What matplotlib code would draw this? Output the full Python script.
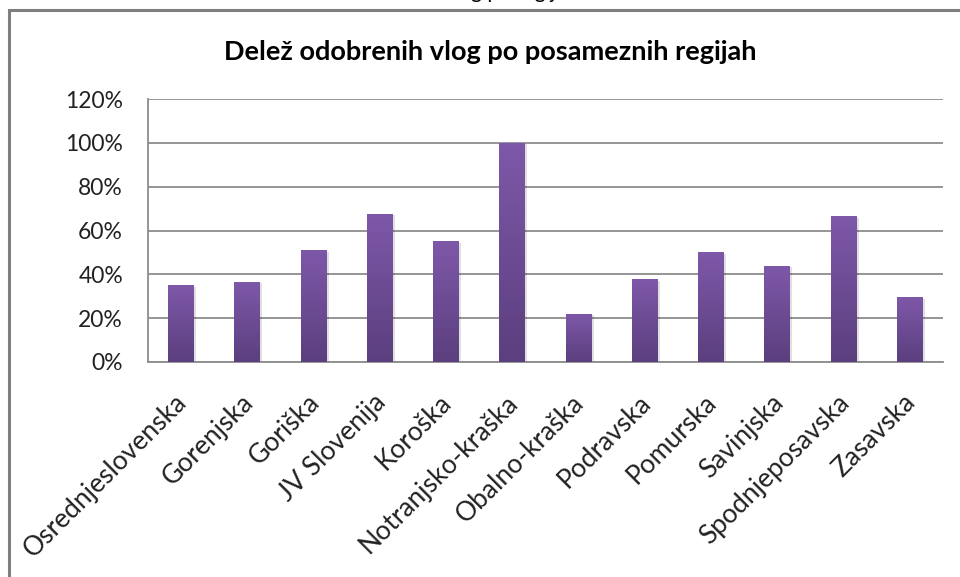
import matplotlib.pyplot as plt
import matplotlib.transforms as mtransforms
import numpy as np
from matplotlib.patches import Rectangle
from matplotlib.colors import LinearSegmentedColormap

regije = ['Osrednjeslovenska', 'Gorenjska', 'Goriška', 'JV Slovenija', 'Koroška',
          'Notranjsko-kraška', 'Obalno-kraška', 'Podravska', 'Pomurska', 'Savinjska',
          'Spodnjeposavska', 'Zasavska']
delez = [35, 36.6, 51, 67.5, 55, 100, 22, 37.7, 50, 44, 66.5, 29.5]
yticks = [0, 20, 40, 60, 80, 100, 120]

plt.rcParams['font.family'] = ['Lato', 'DejaVu Sans']

fig = plt.figure(figsize=(9.6, 5.77), dpi=100)
fig.patch.set_facecolor('white')

# outer chart frame (cut off right and bottom like the screenshot)
fig.patches.append(Rectangle((9 / 960, -0.05), 1.2, 1 - 10 / 577 + 0.05,
                             transform=fig.transFigure, fill=False,
                             edgecolor='#7f7f7f', linewidth=2.2))

# heading of the page above the chart, only its lower part is visible
fig.text(0.45, 1.0 + 2 / 577, 'Delež odobrenih vlog po regijah', ha='center',
         va='baseline', fontsize=15, color='black')

ax = fig.add_axes([148 / 960, 1 - 362 / 577, (943 - 148) / 960, (362 - 99) / 577])

x = np.arange(len(regije))
bars = ax.bar(x, delez, width=0.39, color='#6b4a93', zorder=3)

# vertical gradient on each bar
cmap = LinearSegmentedColormap.from_list('vijol', ['#5b3f7e', '#7e58a9'])
grad = np.linspace(0, 1, 256).reshape(-1, 1)
for b in bars:
    x0, w, h = b.get_x(), b.get_width(), b.get_height()
    # soft shadow
    ax.add_patch(Rectangle((x0 + 0.03, 0), w, h - 0.6, color='#000000', alpha=0.12,
                           zorder=2, linewidth=0))
    im = ax.imshow(grad, extent=[x0, x0 + w, 0, h], origin='lower', cmap=cmap,
                   aspect='auto', zorder=4)
    im.set_clip_path(b)

ax.set_xlim(-0.5, len(regije) - 0.5)
ax.set_ylim(0, 120)
ax.set_yticks(yticks)
ax.set_yticklabels([f'{v}%' for v in yticks], fontsize=16.5, color='#222222')
ax.yaxis.grid(True, color='#8c8c8c', linewidth=1.3, zorder=0)
ax.set_axisbelow(True)

ax.set_xticks(x)
ax.set_xticklabels(regije, rotation=45, ha='right', rotation_mode='anchor',
                   fontsize=19, color='#222222')
ax.tick_params(axis='x', length=0, pad=20)
ax.tick_params(axis='y', length=0, pad=18)
shift = mtransforms.ScaledTranslation(-7 / 100, 0, fig.dpi_scale_trans)
for lab in ax.get_xticklabels():
    lab.set_transform(lab.get_transform() + shift)

for s in ['top', 'right']:
    ax.spines[s].set_visible(False)
ax.spines['left'].set_color('#8c8c8c')
ax.spines['bottom'].set_color('#8c8c8c')
ax.spines['left'].set_linewidth(1.3)
ax.spines['bottom'].set_linewidth(1.3)

fig.text(490 / 960, 1 - 52 / 577, 'Delež odobrenih vlog po posameznih regijah',
         ha='center', va='center', fontsize=19.5, fontweight='bold', color='black')

fig.savefig('out.png', dpi=100)
